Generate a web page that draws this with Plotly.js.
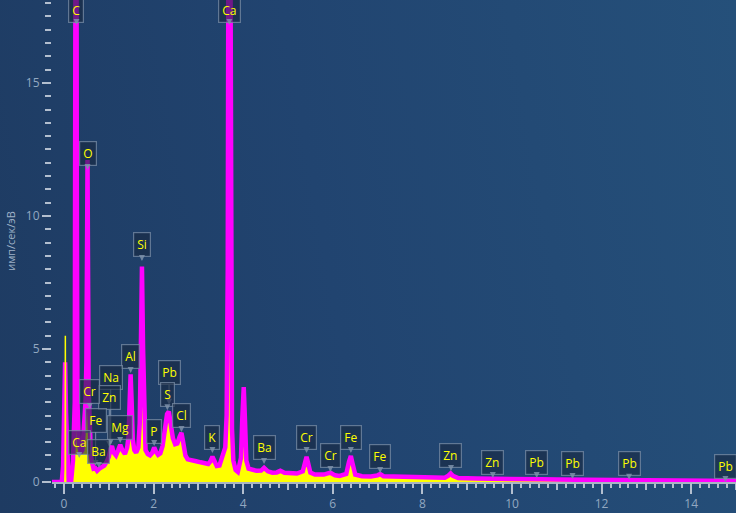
<!DOCTYPE html>
<html>
<head>
<meta charset="utf-8">
<script src="https://cdn.plot.ly/plotly-3.0.1.min.js"></script>
<style>
  html, body { margin:0; padding:0; }
  #chart {
    width:736px; height:513px;
    background: linear-gradient(80deg, #1e3b62 0%, #214470 45%, #25507a 100%);
  }
</style>
</head>
<body>
<div id="chart"></div>
<script>
// ---- spectrum (energy keV, counts imp/s/eV) ----
const energy = [-0.27,-0.05,-0.02,0.0,0.025,0.045,0.07,0.1,0.16,0.2,0.24,0.255,0.27,0.285,0.3,0.33,0.37,0.41,0.45,0.48,0.5,0.515,0.525,0.535,0.55,0.57,0.6,0.63,0.66,0.7,0.74,0.79,0.85,0.9,0.95,1.0,1.04,1.07,1.11,1.16,1.21,1.255,1.3,1.36,1.41,1.44,1.465,1.487,1.51,1.535,1.57,1.61,1.66,1.69,1.715,1.74,1.765,1.79,1.82,1.87,1.92,1.97,2.013,2.05,2.1,2.15,2.2,2.25,2.3,2.34,2.38,2.43,2.48,2.53,2.58,2.622,2.66,2.71,2.76,2.85,2.95,3.05,3.15,3.22,3.27,3.313,3.35,3.41,3.47,3.53,3.6,3.63,3.655,3.675,3.69,3.705,3.725,3.75,3.78,3.83,3.88,3.95,3.98,4.012,4.04,4.07,4.12,4.2,4.3,4.4,4.466,4.55,4.65,4.75,4.83,4.92,5.05,5.2,5.33,5.38,5.414,5.45,5.5,5.6,5.8,5.946,6.05,6.15,6.3,6.36,6.403,6.44,6.5,6.65,6.85,7.0,7.057,7.13,7.4,7.8,8.3,8.5,8.58,8.63,8.68,8.8,9.2,9.572,10.0,10.45,10.551,10.65,11.0,12.0,12.613,13.5,14.764,15.0];
const counts = [0,0,0.6,2.6,4.5,2.6,0.6,0.05,0.05,0.8,3,12,35,12,3,1.5,1.1,1.2,2.0,3.0,4.5,9,12.1,8.5,3.5,2.0,1.0,0.7,0.5,0.52,0.42,0.5,0.55,0.62,0.75,0.95,1.25,1.35,1.1,1.0,1.2,1.4,1.2,1.05,1.3,1.7,3.0,4.05,3.0,1.6,1.2,1.1,1.3,2.2,5,8.1,5,2.0,1.2,1.05,1.0,1.1,1.3,1.15,1.02,1.08,1.35,1.95,2.55,2.65,2.25,1.65,1.42,1.45,1.7,1.85,1.5,1.0,0.85,0.8,0.78,0.74,0.7,0.68,0.78,0.95,0.82,0.6,0.62,0.9,1.3,2.5,8,25,40,25,7,2,0.8,0.45,0.38,0.9,2.4,3.57,2.3,0.8,0.5,0.45,0.42,0.43,0.53,0.4,0.35,0.36,0.42,0.35,0.32,0.32,0.4,0.75,0.95,0.7,0.35,0.28,0.28,0.35,0.25,0.23,0.3,0.75,0.98,0.7,0.28,0.22,0.21,0.25,0.3,0.22,0.2,0.17,0.15,0.16,0.24,0.32,0.23,0.15,0.13,0.13,0.11,0.1,0.14,0.1,0.09,0.07,0.07,0.05,0.05,0.04];
// narrow noise spike of the raw spectrum near zero energy
const noiseEnergy = [0.025, 0.03, 0.035];
const noiseCounts = [0, 5.5, 0];

// ---- element labels ----
const labelText   = ['C','Ca','O','Si','Al','Na','Zn','Cr','Fe','Mg','Ca','Ba','P','Pb','S','Cl','K','Ba','Cr','Cr','Fe','Fe','Zn','Zn','Pb','Pb','Pb','Pb'];
const labelEnergy = [0.277,3.691,0.525,1.740,1.487,1.041,1.012,0.573,0.705,1.254,0.341,0.779,2.013,2.345,2.307,2.622,3.313,4.466,5.414,5.946,6.403,7.057,8.638,9.572,10.551,11.35,12.613,14.764];
const labelLevel  = [17.18,17.18,11.73,8.31,4.1,1.39,1.32,2.74,0.6,1.47,0.9,0.53,1.35,2.9,2.7,1.88,1.09,0.68,1.09,0.38,1.09,0.34,0.41,0.15,0.15,0.11,0.08,0.0];

// ---- axis ticks ----
const yTickVals = [0,5,10,15];
const yTickText = ['0','5','10','15'];

// label box offsets (pixels) - layout only
const labelDy = [-15,-15,-16,-16,-16,-68,-49,-18,-46,-15,-16,-16,-15,-32,-16,-16,-16,-16,-16,-16,-16,-16,-16,-16,-16,-16,-16,-16];

const tickColor = '#b3bfcf';
const labelColor = '#92a8c1';
const xr = [-0.268, 15.0];

const traces = [
  { x: energy, y: counts, xaxis:'x', yaxis:'y', type:'scatter', mode:'lines',
    line:{color:'#ffff00', width:0}, fill:'tozeroy', fillcolor:'#ffff00',
    hoverinfo:'skip', showlegend:false },
  { x: energy, y: counts, xaxis:'x2', yaxis:'y', type:'scatter', mode:'lines',
    line:{color:'#ff00ff', width:4.5}, hoverinfo:'skip', showlegend:false },
  { x: noiseEnergy, y: noiseCounts, xaxis:'x2', yaxis:'y', type:'scatter', mode:'lines',
    line:{color:'#ffff00', width:1.5}, hoverinfo:'skip', showlegend:false }
];

const annotations = labelText.map((t,i) => ({
  x: labelEnergy[i], y: labelLevel[i], xref:'x', yref:'y',
  text: t, showarrow: true, ax: 0, ay: labelDy[i],
  arrowhead: 2, arrowsize: 1, arrowwidth: 1.2, arrowcolor: 'rgba(125,145,170,0.85)',
  bgcolor: 'rgba(24,40,64,0.62)', bordercolor: 'rgba(120,140,165,0.75)',
  borderwidth: 1.2, borderpad: 3,
  font: {family:'Open Sans, sans-serif', size:12, color:'#ffff00'}
}));

const layout = {
  width:736, height:513,
  margin:{l:52, r:0, t:0, b:31, pad:0},
  paper_bgcolor:'rgba(0,0,0,0)', plot_bgcolor:'rgba(0,0,0,0)',
  showlegend:false,
  font:{family:'Open Sans, sans-serif', color:labelColor},
  xaxis:{
    range:xr, showgrid:false, zeroline:false,
    showline:true, linecolor:'#a9b4c2', linewidth:2, layer:'above traces',
    ticks:'outside', tickmode:'linear', tick0:0, dtick:2, ticklen:10, tickwidth:2, tickcolor:tickColor,
    tickfont:{size:12, color:labelColor},
    minor:{ticks:'outside', tickmode:'linear', tick0:0, dtick:0.2, ticklen:4, tickwidth:2, tickcolor:tickColor}
  },
  xaxis2:{
    range:xr, overlaying:'x', anchor:'y', side:'bottom', showgrid:false, zeroline:false, showline:false,
    ticks:'outside', tickmode:'linear', tick0:0, dtick:1, ticklen:7, tickwidth:2, tickcolor:tickColor,
    showticklabels:false
  },
  yaxis:{
    range:[0,18.12], showgrid:false, zeroline:false, showline:false,
    ticks:'outside', tickmode:'array', tickvals:yTickVals, ticktext:yTickText,
    ticklen:9, tickwidth:2, tickcolor:tickColor,
    tickfont:{size:12, color:labelColor},
    minor:{ticks:'outside', tickmode:'linear', tick0:0, dtick:0.5, ticklen:6, tickwidth:2, tickcolor:tickColor},
    title:{text:'имп/сек/эВ', font:{size:11, color:'#9fb2c8'}, standoff:8}
  },
  annotations: annotations
};

Plotly.newPlot('chart', traces, layout, {staticPlot:true, displayModeBar:false});
</script>
</body>
</html>
